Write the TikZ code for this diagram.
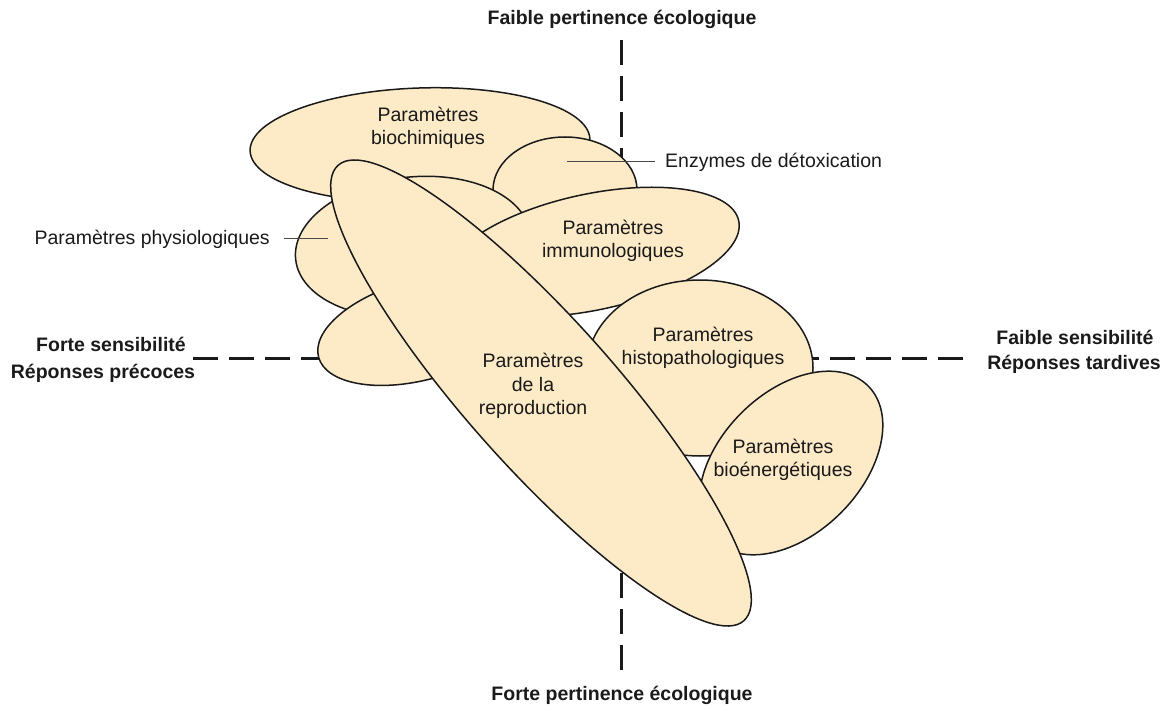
\documentclass[tikz,border=0pt]{standalone}
\usepackage{fontspec}
\setmainfont{Liberation Sans}
\usetikzlibrary{shapes.geometric}
\definecolor{beige}{RGB}{253,235,200}
\definecolor{ink}{RGB}{26,26,26}
\begin{document}
\begin{tikzpicture}[x=1pt,y=-1pt,
  blob/.style={ellipse, draw=ink, line width=1.5pt, fill=beige, inner sep=0pt, outer sep=0pt},
  axis/.style={draw=ink, line width=3pt, dash pattern=on 25pt off 11pt},
  lbl/.style={font=\fontsize{19.5}{23.5}\selectfont, text=ink, align=center, inner sep=0pt},
  side/.style={font=\fontsize{19.5}{23.5}\selectfont\bfseries, text=ink, inner sep=0pt, anchor=base},
  leader/.style={draw=ink!80, line width=1pt}]
\useasboundingbox (0,0) rectangle (1166,711);

% dashed axes, behind the ellipses
\coordinate (vtop) at (621,40);
\coordinate (vtopend) at (621,300);
\coordinate (vbot) at (621,670);
\coordinate (vbotend) at (621,450);
\coordinate (hleft) at (193,358);
\coordinate (hleftend) at (500,358);
\coordinate (hright) at (963,358);
\coordinate (hrightend) at (700,358);
\draw[axis] (vtop) -- (vtopend);
\draw[axis] (vbot) -- (vbotend);
\draw[axis] (hleft) -- (hleftend);
\draw[axis] (hright) -- (hrightend);

% ellipses, back to front
\node[blob, minimum width=340pt, minimum height=114pt, rotate=2] (bio) at (420,145) {};
\node[blob, minimum width=144pt, minimum height=106pt] (enz) at (565,190) {};
\node[blob, minimum width=236pt, minimum height=140pt, rotate=6] (phy) at (413,247) {};
\node[blob, minimum width=210pt, minimum height=100pt, rotate=15] (low) at (420,330) {};
\node[blob, minimum width=300pt, minimum height=116pt, rotate=12] (imm) at (592,252) {};
\node[blob, minimum width=226pt, minimum height=176pt] (his) at (700,368) {};
\node[blob, minimum width=218pt, minimum height=141pt, rotate=45] (ene) at (791,463) {};
\node[blob, minimum width=610pt, minimum height=148pt, rotate=-48.3] (rep) at (541,393) {};

% texts inside the ellipses
\node[lbl] (tbio) at (428,128) {Paramètres\\biochimiques};
\node[lbl] (timm) at (613,241) {Paramètres\\immunologiques};
\node[lbl] (this) at (703,348) {Paramètres\\histopathologiques};
\node[lbl] (tene) at (783,460) {Paramètres\\bioénergétiques};
\node[lbl] (trep) at (533,386) {Paramètres\\de la\\reproduction};

% labelled ellipses with leader lines
\node[lbl, anchor=west] (tenz) at (665,162) {Enzymes de détoxication};
\coordinate (penz) at (567,162);
\draw[leader] (penz) -- (tenz.west -| 655,0);
\node[lbl, anchor=east] (tphy) at (270,239) {Paramètres physiologiques};
\coordinate (pphy) at (328,239);
\draw[leader] (pphy) -- (tphy.east -| 284,0);

% axis captions
\node[side] (ntop) at (622,25) {Faible pertinence écologique};
\node[side] (nbot) at (622,700) {Forte pertinence écologique};
\node[side] (nl1) at (111,351) {Forte sensibilité};
\node[side] (nl2) at (103,378) {Réponses précoces};
\node[side] (nr1) at (1075,344) {Faible sensibilité};
\node[side] (nr2) at (1074,369) {Réponses tardives};
\end{tikzpicture}
\end{document}
